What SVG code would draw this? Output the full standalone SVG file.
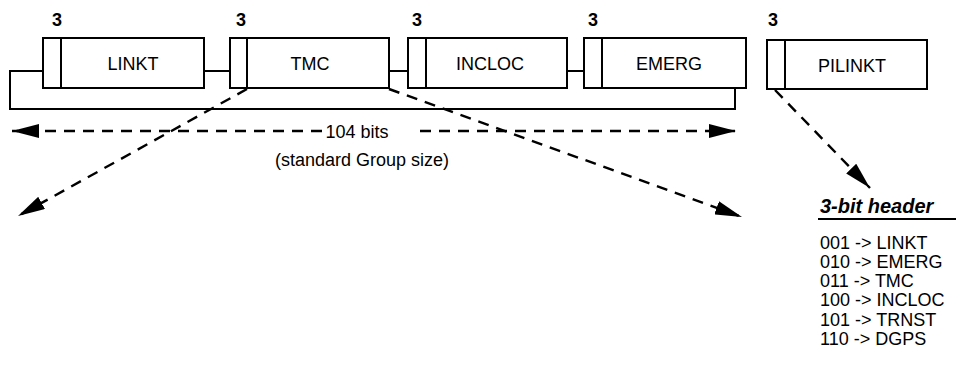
<svg xmlns="http://www.w3.org/2000/svg" width="956" height="365" viewBox="0 0 956 365">
<style>
  .box { fill: #fff; stroke: #000; stroke-width: 2; }
  .ln { fill: none; stroke: #000; stroke-width: 2; }
  .dash { fill: none; stroke: #000; stroke-width: 2.4; stroke-dasharray: 11 8; }
  .lbl { font-family: "Liberation Sans", Arial, sans-serif; font-size: 18px; fill: #000; text-anchor: middle; }
  .num { font-family: "Liberation Sans", Arial, sans-serif; font-size: 18px; font-weight: bold; fill: #000; text-anchor: middle; }
  .txt { font-family: "Liberation Sans", Arial, sans-serif; font-size: 18px; fill: #000; }
  .hdr { font-family: "Liberation Sans", Arial, sans-serif; font-size: 20px; font-weight: bold; font-style: italic; fill: #000; }
</style>
<defs>
  <marker id="ah" markerUnits="userSpaceOnUse" markerWidth="28" markerHeight="14" refX="27" refY="7" orient="auto-start-reverse" viewBox="0 0 28 14">
    <path d="M0,0 L27,7 L0,14 Z" fill="#000"/>
  </marker>
</defs>
<rect width="956" height="365" fill="#fff"/>

<g id="connectors">
  <path class="ln" d="M43,71 H10 V109 H735 V88"/>
  <line class="ln" x1="204" y1="71" x2="230" y2="71"/>
  <line class="ln" x1="389" y1="71" x2="408" y2="71"/>
  <line class="ln" x1="567" y1="71" x2="584" y2="71"/>
  <line class="dash" x1="322" y1="131" x2="12" y2="131" marker-end="url(#ah)"/>
  <line class="dash" x1="420" y1="131" x2="736" y2="131" marker-end="url(#ah)"/>
  <line class="dash" x1="247" y1="89" x2="18" y2="216" marker-end="url(#ah)"/>
  <line class="dash" x1="389" y1="89" x2="742" y2="217" marker-end="url(#ah)"/>
  <line class="dash" x1="775" y1="90" x2="870" y2="188" marker-end="url(#ah)"/>
</g>

<g id="linkt">
  <rect class="box" x="43" y="38" width="161" height="50"/>
  <line class="ln" x1="61" y1="38" x2="61" y2="88"/>
  <text class="num" x="57" y="26">3</text>
  <text class="lbl" x="133" y="70">LINKT</text>
</g>
<g id="tmc">
  <rect class="box" x="230" y="38" width="159" height="50"/>
  <line class="ln" x1="247" y1="38" x2="247" y2="88"/>
  <text class="num" x="241" y="26">3</text>
  <text class="lbl" x="310" y="70">TMC</text>
</g>
<g id="incloc">
  <rect class="box" x="408" y="38" width="159" height="50"/>
  <line class="ln" x1="426" y1="38" x2="426" y2="88"/>
  <text class="num" x="417" y="26">3</text>
  <text class="lbl" x="490" y="70">INCLOC</text>
</g>
<g id="emerg">
  <rect class="box" x="584" y="38" width="162" height="50"/>
  <line class="ln" x1="602" y1="38" x2="602" y2="88"/>
  <text class="num" x="593" y="26">3</text>
  <text class="lbl" x="669" y="70">EMERG</text>
</g>
<g id="pilinkt">
  <rect class="box" x="767" y="40" width="160" height="49"/>
  <line class="ln" x1="785" y1="40" x2="785" y2="89"/>
  <text class="num" x="773" y="26">3</text>
  <text class="lbl" x="852" y="72">PILINKT</text>
</g>

<g id="size-label">
  <text class="lbl" x="357" y="138">104 bits</text>
  <text class="lbl" x="362" y="166">(standard Group size)</text>
</g>

<g id="legend">
  <text class="hdr" x="820" y="213">3-bit header</text>
  <line class="ln" x1="818" y1="219" x2="956" y2="219"/>
  <text class="txt" x="820" y="249">001 -&gt; LINKT</text>
  <text class="txt" x="820" y="268">010 -&gt; EMERG</text>
  <text class="txt" x="820" y="287">011 -&gt; TMC</text>
  <text class="txt" x="820" y="306">100 -&gt; INCLOC</text>
  <text class="txt" x="820" y="326">101 -&gt; TRNST</text>
  <text class="txt" x="820" y="345">110 -&gt; DGPS</text>
</g>
</svg>
